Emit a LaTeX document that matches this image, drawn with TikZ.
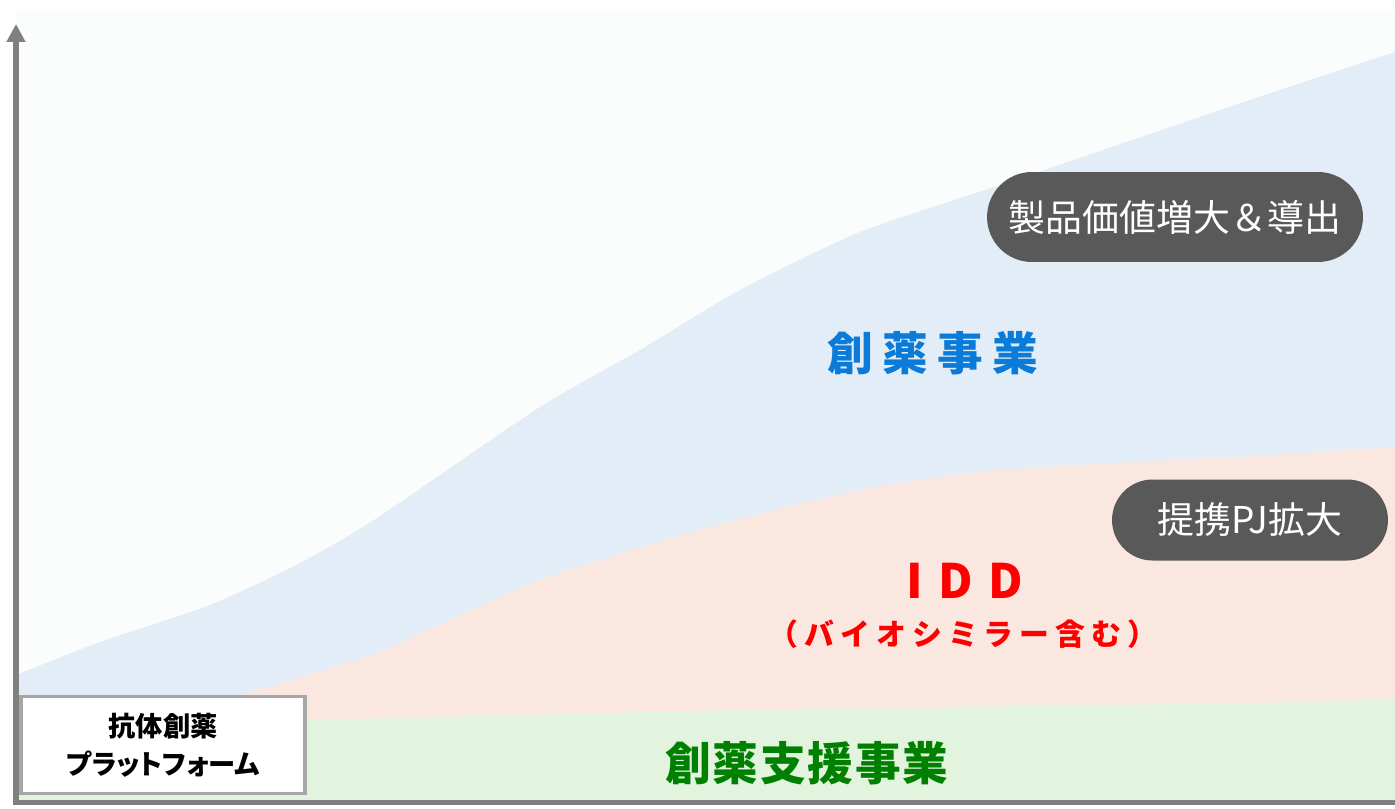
\documentclass[tikz,border=0pt]{standalone}
\usepackage{fontspec}
\setmainfont{Noto Sans CJK JP}
\usetikzlibrary{arrows.meta,shapes.misc}
\definecolor{bgpale}{HTML}{FBFCFC}
\definecolor{bandblue}{HTML}{E3EDF7}
\definecolor{bandred}{HTML}{FAE8E0}
\definecolor{bandgreen}{HTML}{E2F3DE}
\definecolor{axisgray}{HTML}{808080}
\definecolor{boxgray}{HTML}{A6A6A6}
\definecolor{pillgray}{HTML}{595959}
\definecolor{txtblue}{HTML}{0A7BD8}
\definecolor{txtred}{HTML}{FF0000}
\definecolor{txtgreen}{HTML}{008000}
\newcommand\pfont[2]{\fontsize{#1}{#2}\selectfont}

\tikzset{gaxis/.style={draw=axisgray,line width=0.12cm,line cap=rect},
         gpf/.style={draw=boxgray,line width=0.07cm,fill=white,inner sep=0pt,
                     minimum width=5.68cm,minimum height=1.94cm,align=center,
                     font=\bfseries\pfont{15.5}{21.5}},
         gpill/.style={rounded rectangle,fill=pillgray,text=white,inner sep=0pt,
                       font=\pfont{21}{24}},
         glab/.style={font=\bfseries,inner sep=0pt}}

\begin{document}
\begin{tikzpicture}[x=0.02cm,y=-0.02cm]
    \useasboundingbox (0,0) rectangle (1395,808);
    \fill[bgpale] (16,10) rectangle (1395,800);
    % bands, back to front
    \fill[bandblue] plot[smooth,tension=0.4] coordinates {(16,675) (100,642) (210,605) (300,563) (377,518)
      (540,407) (640,350) (740,290) (860,232) (1000,185) (1250,100) (1395,52)} |- (16,800) -- cycle;
    \fill[bandred] plot[smooth,tension=0.4] coordinates {(16,738) (150,716) (233,697) (307,675) (377,653)
      (540,580) (700,530) (860,490) (1000,470) (1250,456) (1395,447)} |- (16,800) -- cycle;
    \fill[bandgreen] plot[smooth,tension=0.5] coordinates {(16,724) (308,720) (433,717) (800,709)
      (1250,703) (1395,699)} |- (16,800) -- cycle;
    % axes
    \coordinate (org) at (16,802); \coordinate (ytop) at (16,24); \coordinate (xend) at (1395,802);
    \draw[gaxis,-{Triangle[width=0.36cm,length=0.36cm]}] (org) -- (ytop);
    \draw[gaxis,line width=0.1cm] (org) -- (xend);
    \node[gpf] (pf) at (163,745) {抗体創薬\\\addfontfeatures{RawFeature=+palt}プラットフォーム};
    \node[gpill,minimum width=7.52cm,minimum height=1.8cm] (val) at (1175,217) {製品価値増大＆導出};
    \node[gpill,minimum width=5.52cm,minimum height=1.62cm] (pj) at (1250,520) {提携PJ拡大};
    \node[glab,text=txtblue,font=\bfseries\pfont{26}{30}\addfontfeatures{LetterSpace=20}] (drug) at (933,353) {創薬事業};
    \node[glab,text=txtred,font=\bfseries\pfont{27}{30}\addfontfeatures{LetterSpace=33}] (idd) at (965,581) {IDD};
    \node[glab,text=txtred,font=\bfseries\pfont{17}{20}\addfontfeatures{LetterSpace=20}] (bios) at (963,634) {（バイオシミラー含む）};
    \node[glab,text=txtgreen,font=\bfseries\pfont{26}{30}\addfontfeatures{LetterSpace=4}] (supp) at (807,763) {創薬支援事業};
  \end{tikzpicture}
\end{document}
